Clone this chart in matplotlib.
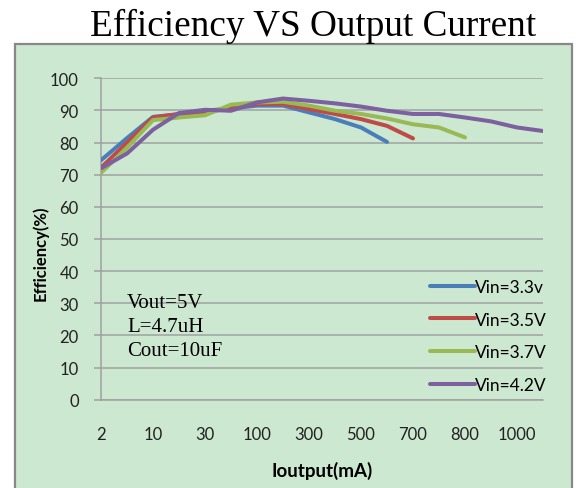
import matplotlib
matplotlib.use("Agg")
import matplotlib.pyplot as plt
from matplotlib.patches import Rectangle

# x categories (every other one is labelled on the chart)
x_labels = ["2", "", "10", "", "30", "", "100", "", "300", "",
            "500", "", "700", "", "800", "", "1000", ""]

vin_33 = [74.5, 81.4, 88.0, 88.8, 89.6, 90.6, 91.5, 91.5, 89.4, 87.3, 84.7, 80.2]
vin_35 = [72.2, 80.0, 87.8, 88.9, 89.9, 90.6, 92.0, 92.0, 90.4, 88.9, 87.3, 85.2, 81.3]
vin_37 = [70.6, 78.4, 87.0, 87.8, 88.5, 91.8, 92.5, 92.7, 91.5, 89.9, 88.9, 87.5,
          85.7, 84.7, 81.6]
vin_42 = [72.0, 76.6, 84.0, 89.2, 90.2, 89.9, 92.5, 93.7, 93.0, 92.2, 91.2, 89.9,
          88.9, 88.9, 87.8, 86.6, 84.7, 83.6]

series = [
    ("Vin=3.3v", vin_33, "#4A7EBB"),
    ("Vin=3.5V", vin_35, "#BE4B48"),
    ("Vin=3.7V", vin_37, "#98B954"),
    ("Vin=4.2V", vin_42, "#7D60A0"),
]

bg = "#CDE8D0"
grid_col = "#A0A0A0"

W, H = 576, 489
fig = plt.figure(figsize=(W / 100, H / 100), dpi=100)

# green chart area (runs off the bottom edge)
fig.patches.append(Rectangle((15 / W, -0.05), (572 - 15) / W, (H - 45) / H + 0.05,
                             transform=fig.transFigure, facecolor=bg,
                             edgecolor="#888888", linewidth=1.6, zorder=-5))

ax = fig.add_axes([101 / W, 88.3 / H, 442 / W, 321.4 / H])
ax.patch.set_visible(False)

for name, vals, col in series:
    ax.plot(range(len(vals)), vals, color=col, linewidth=2.9,
            solid_capstyle="round", label=name, zorder=3)

ax.set_xlim(0, len(x_labels) - 1)
ax.set_ylim(0, 100)
ax.set_yticks(range(0, 101, 10))
ax.set_xticks(range(0, len(x_labels), 2))
ax.set_xticklabels(x_labels[::2])

ax.grid(axis="y", color=grid_col, linewidth=1.1)
ax.set_axisbelow(True)
for s in ["top", "right"]:
    ax.spines[s].set_visible(False)
for s in ["left", "bottom"]:
    ax.spines[s].set_color(grid_col)
    ax.spines[s].set_linewidth(1.1)

sans = ["Lato", "DejaVu Sans"]
ax.tick_params(axis="y", length=5, color=grid_col, width=1.1, pad=11,
               labelsize=12, labelcolor="#222222")
ax.tick_params(axis="x", length=0, pad=19, labelsize=12, labelcolor="#222222")
for lab in ax.get_xticklabels() + ax.get_yticklabels():
    lab.set_family(sans)

ax.set_xlabel("Ioutput(mA)", fontsize=13.5, fontweight="bold", family=sans)
ax.set_ylabel("Efficiency(%)", fontsize=12, fontweight="bold", family=sans)
ax.xaxis.set_label_coords(0.5, -0.19)
ax.yaxis.set_label_coords(-0.118, 0.46)

fig.text(313 / W, 1 - 26 / H, "Efficiency VS Output Current", ha="center",
         va="center", fontsize=26.8, family="Liberation Serif")

ax.text(0.059, 0.227, "Vout=5V\nL=4.7uH\nCout=10uF", transform=ax.transAxes,
        ha="left", va="center", fontsize=15, family="Liberation Serif",
        linespacing=1.36)

leg = ax.legend(loc="upper left", bbox_to_anchor=(421 / W, 1 - 271 / H),
                bbox_transform=fig.transFigure, frameon=False, borderpad=0,
                handlelength=2.6, handletextpad=0.0, labelspacing=0.97,
                prop={"family": sans, "size": 12.5})

fig.savefig("out.png", dpi=100)
